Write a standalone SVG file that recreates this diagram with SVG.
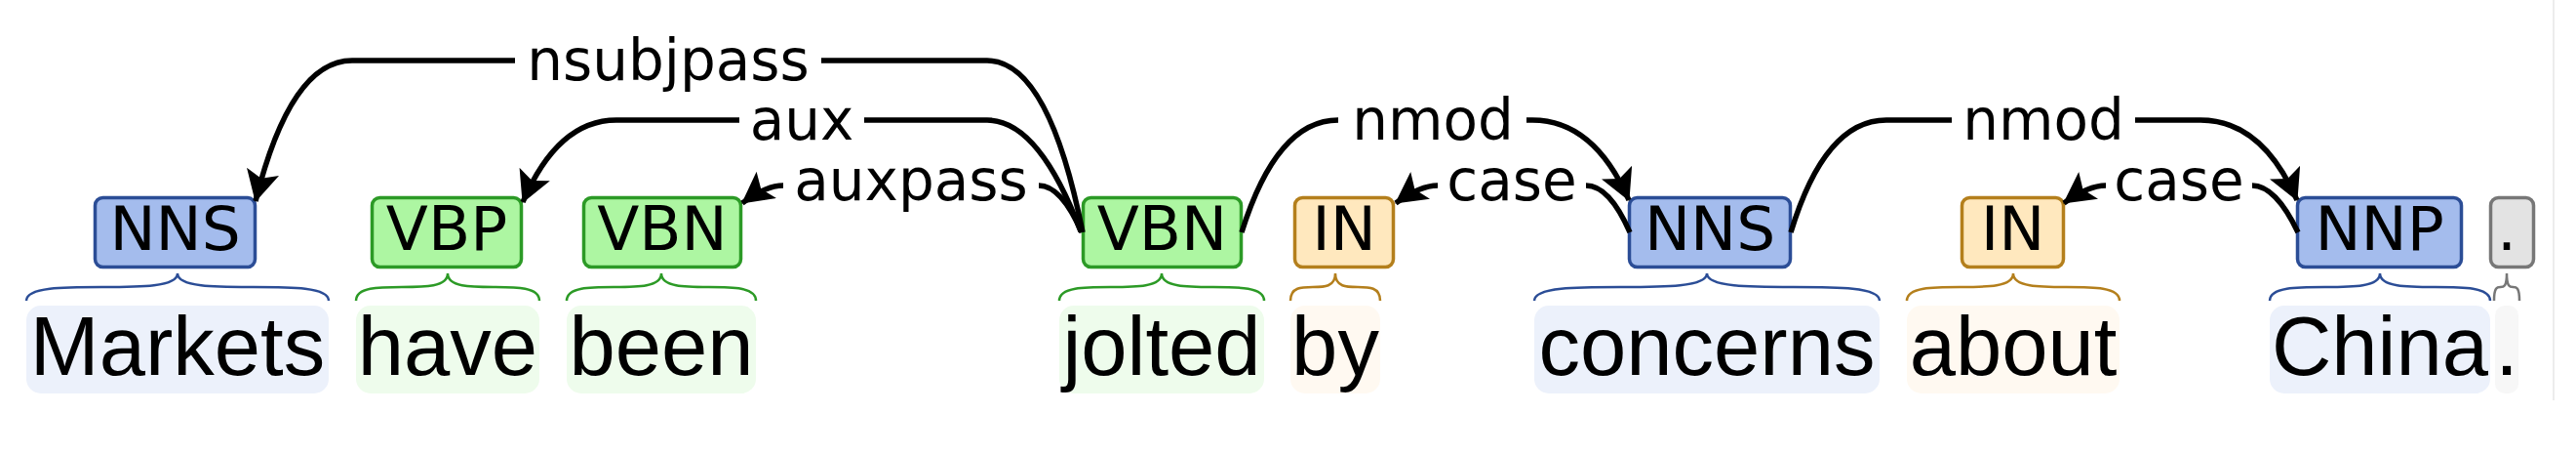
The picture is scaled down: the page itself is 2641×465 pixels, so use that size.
<svg xmlns="http://www.w3.org/2000/svg" width="2641" height="465" viewBox="0 0 2641 465">
<style>
.tag{stroke-width:3.5}
.nn{fill:#a4bced;stroke:#2b4d96}
.vb{fill:#adf6a2;stroke:#2c9a26}
.in{fill:#ffe8be;stroke:#b47f1c}
.pu{fill:#e3e3e3;stroke:#777777}
.wnn{fill:#ecf1fb}
.wvb{fill:#eefcec}
.win{fill:#fff9f1}
.wpu{fill:#f7f7f7}
.brace{fill:none;stroke-width:2.5}
.bnn{stroke:#2b4d96}
.bvb{stroke:#2c9a26}
.bin{stroke:#b47f1c}
.bpu{stroke:#777777}
.tt{font-family:"DejaVu Sans","Liberation Sans",sans-serif;font-size:63px;fill:#000;text-anchor:middle}
.wt{font-family:"Liberation Sans",Arial,sans-serif;font-size:85px;fill:#000;text-anchor:middle}
.lab{font-family:"DejaVu Sans","Liberation Sans",sans-serif;font-size:58px;fill:#000;text-anchor:middle}
.arc{fill:none;stroke:#000;stroke-width:5.5}
</style>
<defs>
<marker id="ah" viewBox="0 0 32 34" refX="31" refY="17" markerWidth="32" markerHeight="34" markerUnits="userSpaceOnUse" orient="auto">
<path d="M0,0 L32,17 L0,34 L7,17 Z" fill="#000"/>
</marker>
</defs>
<rect x="0" y="0" width="2641" height="465" fill="#ffffff"/>
<line x1="2618" y1="0" x2="2618" y2="410" stroke="#e6e6e6" stroke-width="1.5"/>

<g id="w1-Markets">
<rect class="wnn" x="27" y="313" width="310" height="90" rx="15"/>
<text class="wt" x="182" y="384">Markets</text>
<path class="brace bnn" d="M27,308 C27,280 182,308 182,280 M337,308 C337,280 182,308 182,280"/>
<rect class="tag nn" x="97.5" y="202.5" width="164" height="71" rx="8"/>
<text class="tt" x="179.5" y="256">NNS</text>
</g>

<g id="w2-have">
<rect class="wvb" x="365" y="313" width="188" height="90" rx="15"/>
<text class="wt" x="459" y="384">have</text>
<path class="brace bvb" d="M365,308 C365,280 459,308 459,280 M553,308 C553,280 459,308 459,280"/>
<rect class="tag vb" x="381.5" y="202.5" width="153" height="71" rx="8"/>
<text class="tt" x="458" y="256">VBP</text>
</g>

<g id="w3-been">
<rect class="wvb" x="581" y="313" width="194" height="90" rx="15"/>
<text class="wt" x="678" y="384">been</text>
<path class="brace bvb" d="M581,308 C581,280 678,308 678,280 M775,308 C775,280 678,308 678,280"/>
<rect class="tag vb" x="598.5" y="202.5" width="161" height="71" rx="8"/>
<text class="tt" x="679" y="256">VBN</text>
</g>

<g id="w4-jolted">
<rect class="wvb" x="1086" y="313" width="210" height="90" rx="15"/>
<text class="wt" x="1191" y="384">jolted</text>
<path class="brace bvb" d="M1086,308 C1086,280 1191,308 1191,280 M1296,308 C1296,280 1191,308 1191,280"/>
<rect class="tag vb" x="1110.5" y="202.5" width="162" height="71" rx="8"/>
<text class="tt" x="1191.5" y="256">VBN</text>
</g>

<g id="w5-by">
<rect class="win" x="1323" y="313" width="92" height="90" rx="15"/>
<text class="wt" x="1369" y="384">by</text>
<path class="brace bin" d="M1323,308 C1323,280 1369,308 1369,280 M1415,308 C1415,280 1369,308 1369,280"/>
<rect class="tag in" x="1327.5" y="202.5" width="101" height="71" rx="8"/>
<text class="tt" x="1378" y="256">IN</text>
</g>

<g id="w6-concerns">
<rect class="wnn" x="1573" y="313" width="354" height="90" rx="15"/>
<text class="wt" x="1750" y="384">concerns</text>
<path class="brace bnn" d="M1573,308 C1573,280 1750,308 1750,280 M1927,308 C1927,280 1750,308 1750,280"/>
<rect class="tag nn" x="1670.5" y="202.5" width="165" height="71" rx="8"/>
<text class="tt" x="1753" y="256">NNS</text>
</g>

<g id="w7-about">
<rect class="win" x="1955" y="313" width="218" height="90" rx="15"/>
<text class="wt" x="2064" y="384">about</text>
<path class="brace bin" d="M1955,308 C1955,280 2064,308 2064,280 M2173,308 C2173,280 2064,308 2064,280"/>
<rect class="tag in" x="2011.5" y="202.5" width="104" height="71" rx="8"/>
<text class="tt" x="2063.5" y="256">IN</text>
</g>

<g id="w8-China">
<rect class="wnn" x="2327" y="313" width="226" height="90" rx="15"/>
<text class="wt" x="2440" y="384">China</text>
<path class="brace bnn" d="M2327,308 C2327,280 2440,308 2440,280 M2553,308 C2553,280 2440,308 2440,280"/>
<rect class="tag nn" x="2355.5" y="202.5" width="168" height="71" rx="8"/>
<text class="tt" x="2439.5" y="256">NNP</text>
</g>

<g id="w9-period">
<rect class="wpu" x="2558" y="313" width="24" height="90" rx="10"/>
<text class="wt" x="2570" y="384">.</text>
<path class="brace bpu" d="M2557,308 C2557,280 2570,308 2570,280 M2583,308 C2583,280 2570,308 2570,280"/>
<rect class="tag pu" x="2553.5" y="202.5" width="44" height="71" rx="8"/>
<text class="tt" x="2570" y="256">.</text>
</g>

<g id="connectors">
<g id="arc-nsubjpass">
<path class="arc" d="M528,62 L361,62 Q298,62 262,206" marker-end="url(#ah)"/>
<path class="arc" d="M842,62 L1012,62 Q1075,62 1110,238"/>
<text class="lab" x="685" y="82">nsubjpass</text>
</g>
<g id="arc-aux">
<path class="arc" d="M758,123 L632,123 Q572,123 536,207" marker-end="url(#ah)"/>
<path class="arc" d="M886,123 L1012,123 Q1065,123 1108,237"/>
<text class="lab" x="822" y="143">aux</text>
</g>
<g id="arc-auxpass">
<path class="arc" d="M803,190 Q785,190 761,208" marker-end="url(#ah)"/>
<path class="arc" d="M1065,190 Q1088,190 1109,238"/>
<text class="lab" x="934" y="205">auxpass</text>
</g>
<g id="arc-nmod1">
<path class="arc" d="M1372,123 Q1309,123 1273,238"/>
<path class="arc" d="M1565,123 L1571,123 Q1634,123 1670,205" marker-end="url(#ah)"/>
<text class="lab" x="1469" y="143">nmod</text>
</g>
<g id="arc-case1">
<path class="arc" d="M1474,190 Q1456,190 1431,208" marker-end="url(#ah)"/>
<path class="arc" d="M1626,190 Q1650,190 1671,238"/>
<text class="lab" x="1550" y="205">case</text>
</g>
<g id="arc-nmod2">
<path class="arc" d="M2001,123 L1934,123 Q1871,123 1836,238"/>
<path class="arc" d="M2189,123 L2256,123 Q2319,123 2355,205" marker-end="url(#ah)"/>
<text class="lab" x="2095" y="143">nmod</text>
</g>
<g id="arc-case2">
<path class="arc" d="M2159,190 Q2141,190 2116,208" marker-end="url(#ah)"/>
<path class="arc" d="M2309,190 Q2333,190 2356,238"/>
<text class="lab" x="2234" y="205">case</text>
</g>
</g>
</svg>
